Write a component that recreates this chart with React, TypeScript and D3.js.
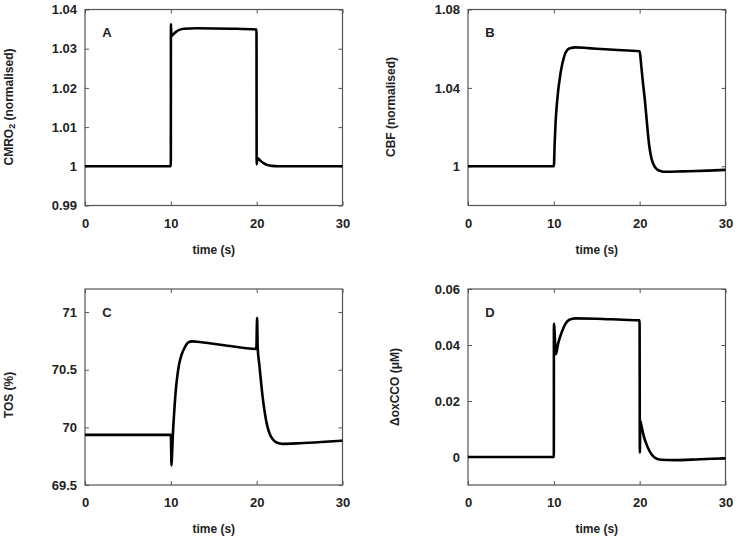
import React, { useEffect, useRef } from "react";
import * as d3 from "d3";

// time axis shared by all four panels
const timeTicks = [0, 10, 20, 30];

// A: CMRO2 (normalised)
const cmroData = [
  [0, 1], [5, 1], [10, 1], [10.01, 1.0363], [10.06, 1.0332], [10.3, 1.0337],
  [10.6, 1.0343], [11.0, 1.0348], [11.5, 1.0351], [13, 1.0352], [17, 1.0351],
  [19.98, 1.0349], [20.0, 1.0005], [20.08, 1.0021], [20.4, 1.0015], [20.8, 1.0008],
  [21.3, 1.0003], [21.8, 1.0001], [22.5, 1.0], [26, 1.0], [30, 1.0],
];
const cmroTicks = [0.99, 1, 1.01, 1.02, 1.03, 1.04];

// B: CBF (normalised)
const cbfData = [
  [0, 1], [5, 1], [10, 1], [10.1, 1.012], [10.2, 1.022], [10.4, 1.034], [10.8, 1.048],
  [11.2, 1.056], [11.6, 1.0595], [12.0, 1.0604], [12.5, 1.0607], [14, 1.0603],
  [16, 1.0597], [18, 1.0592], [20, 1.0587], [20.15, 1.053], [20.35, 1.044],
  [20.6, 1.034], [20.85, 1.022], [21.1, 1.011], [21.35, 1.0045], [21.6, 1.001],
  [22.0, 0.9985], [22.5, 0.9975], [23, 0.9972], [25, 0.9974], [28, 0.9978], [30, 0.9982],
];
const cbfTicks = [1, 1.04, 1.08];

// C: TOS (%)
const tosData = [
  [0, 69.935], [5, 69.935], [10, 69.935], [10.08, 69.67], [10.16, 69.8], [10.24, 69.94],
  [10.4, 70.14], [10.6, 70.34], [10.8, 70.47], [11.0, 70.56], [11.3, 70.64], [11.6, 70.69],
  [12.0, 70.735], [12.5, 70.746], [13, 70.742], [16, 70.715], [19.96, 70.68],
  [20.05, 70.95], [20.12, 70.69], [20.3, 70.55], [20.5, 70.4], [20.7, 70.26],
  [20.9, 70.15], [21.1, 70.06], [21.35, 69.98], [21.6, 69.93], [21.9, 69.895],
  [22.4, 69.866], [23, 69.857], [25, 69.862], [28, 69.875], [30, 69.885],
];
const tosTicks = [69.5, 70, 70.5, 71];

// D: delta oxCCO (uM)
const ccoData = [
  [0, 0], [5, 0], [10, 0], [10.01, 0.0477], [10.24, 0.0367], [10.5, 0.0405],
  [10.9, 0.0444], [11.3, 0.0473], [11.8, 0.049], [12.5, 0.0495], [15, 0.0494],
  [18, 0.049], [19.99, 0.0488], [20.02, 0.0016], [20.08, 0.0128], [20.2, 0.0112],
  [20.5, 0.0072], [20.8, 0.0045], [21.1, 0.0024], [21.4, 0.0009], [21.8, -0.0003],
  [22.5, -0.001], [24, -0.0011], [27, -0.0008], [30, -0.0005],
];
const ccoTicks = [0, 0.02, 0.04, 0.06];

const W = 257.5;
const H = 196;

const panels = [
  { id: "A", data: cmroData, domain: [0.99, 1.04], ticks: cmroTicks, left: 85, top: 9.5, labelX: 9, labelY: 107, label: "cmro" },
  { id: "B", data: cbfData, domain: [0.98, 1.08], ticks: cbfTicks, left: 468, top: 9.5, labelX: 391, labelY: 107, label: "CBF (normalised)" },
  { id: "C", data: tosData, domain: [69.5, 71.2], ticks: tosTicks, left: 85, top: 289, labelX: 9, labelY: 395, label: "TOS (%)" },
  { id: "D", data: ccoData, domain: [-0.01, 0.06], ticks: ccoTicks, left: 468, top: 289, labelX: 395, labelY: 387, label: "\u0394oxCCO (\u03bcM)" },
];

const fmt = (d) => String(+(+d).toFixed(4));

const styleAxis = (g) => {
  g.select(".domain").remove();
  g.selectAll(".tick line").attr("stroke", "#555").attr("stroke-width", 1);
  g.selectAll("text")
    .attr("font-family", "Liberation Sans, Arial, sans-serif")
    .attr("font-weight", "bold")
    .attr("font-size", 13)
    .attr("fill", "#222");
};

const App = () => {
  const svgRef = useRef(null);

  useEffect(() => {
    const svg = d3.select(svgRef.current);
    svg.selectAll("*").remove();

    panels.forEach((p) => {
      const x = d3.scaleLinear().domain([0, 30]).range([p.left, p.left + W]);
      const y = d3.scaleLinear().domain(p.domain).range([p.top + H, p.top]);
      const g = svg.append("g");

      g.append("g")
        .attr("transform", `translate(0,${p.top + H})`)
        .call(d3.axisBottom(x).tickValues(timeTicks).tickSize(-4).tickPadding(13).tickFormat(fmt))
        .call(styleAxis);
      g.append("g")
        .attr("transform", `translate(0,${p.top})`)
        .call(d3.axisTop(x).tickValues(timeTicks).tickSize(-4).tickFormat(() => ""))
        .call(styleAxis);
      g.append("g")
        .attr("transform", `translate(${p.left},0)`)
        .call(d3.axisLeft(y).tickValues(p.ticks).tickSize(-4).tickPadding(8).tickFormat(fmt))
        .call(styleAxis);
      g.append("g")
        .attr("transform", `translate(${p.left + W},0)`)
        .call(d3.axisRight(y).tickValues(p.ticks).tickSize(-4).tickFormat(() => ""))
        .call(styleAxis);

      g.append("rect")
        .attr("x", p.left)
        .attr("y", p.top)
        .attr("width", W)
        .attr("height", H)
        .attr("fill", "none")
        .attr("stroke", "#555")
        .attr("stroke-width", 1.2);

      const line = d3
        .line()
        .x((d) => x(d[0]))
        .y((d) => y(d[1]))
        .curve(d3.curveMonotoneX);

      g.append("path")
        .datum(p.data)
        .attr("d", line)
        .attr("fill", "none")
        .attr("stroke", "#000")
        .attr("stroke-width", 2.6)
        .attr("stroke-linejoin", "round");

      g.append("text")
        .attr("x", p.left + 22)
        .attr("y", p.top + 23)
        .attr("text-anchor", "middle")
        .attr("dominant-baseline", "central")
        .attr("font-family", "Liberation Sans, Arial, sans-serif")
        .attr("font-weight", "bold")
        .attr("font-size", 13)
        .attr("fill", "#222")
        .text(p.id);

      g.append("text")
        .attr("x", (p.left + W / 2))
        .attr("y", p.top + H + 48)
        .attr("text-anchor", "middle")
        .attr("font-family", "Liberation Sans, Arial, sans-serif")
        .attr("font-weight", "bold")
        .attr("font-size", 12)
        .attr("fill", "#222")
        .text("time (s)");

      const yl = g.append("text")
        .attr("transform", `translate(${p.labelX},${p.labelY}) rotate(-90)`)
        .attr("text-anchor", "middle")
        .attr("dominant-baseline", "central")
        .attr("font-family", "Liberation Sans, Arial, sans-serif")
        .attr("font-weight", "bold")
        .attr("font-size", 12)
        .attr("fill", "#222");
      if (p.label === "cmro") {
        yl.append("tspan").text("CMRO");
        yl.append("tspan").attr("font-size", 9).attr("dy", 3).text("2");
        yl.append("tspan").attr("dy", -3).text(" (normalised)");
      } else {
        yl.text(p.label);
      }
    });
  }, []);

  return (
    <svg
      ref={svgRef}
      width={738}
      height={540}
      style={{ position: "absolute", left: 0, top: 0, background: "#fff" }}
    ></svg>
  );
};

export default App;
